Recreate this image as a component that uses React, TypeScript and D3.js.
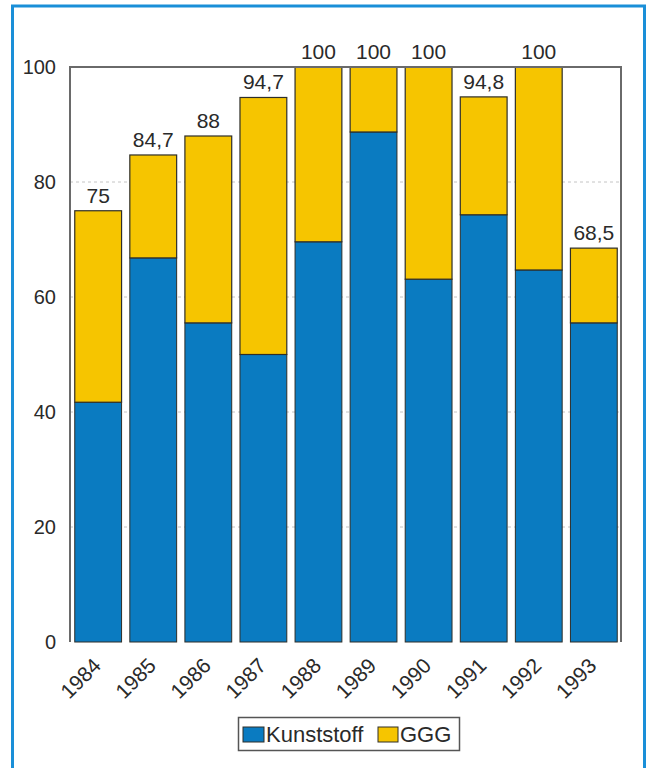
import React from "react";
import * as d3 from "d3";

const years = ["1984", "1985", "1986", "1987", "1988", "1989", "1990", "1991", "1992", "1993"];
const kunststoff = [41.7, 66.8, 55.5, 50.0, 69.6, 88.7, 63.1, 74.3, 64.7, 55.5];
const ggg = [33.3, 17.9, 32.5, 44.7, 30.4, 11.3, 36.9, 20.5, 35.3, 13.0];
const totalLabels = ["75", "84,7", "88", "94,7", "100", "100", "100", "94,8", "100", "68,5"];
const yTicks = [0, 20, 40, 60, 80, 100];
const seriesNames = ["Kunststoff", "GGG"];

const W = 648;
const H = 768;
const left = 70;
const right = 621;
const top = 67;
const bottom = 642;

const BLUE = "#0a7bc1";
const YELLOW = "#f6c500";
const FRAME = "#1a8fd8";
const OUTLINE = "#2e2e28";
const TEXT = "#2a2a2a";
const FONT = "'Liberation Sans', Arial, Helvetica, sans-serif";

export default function App() {
  const x = d3.scaleBand<string>().domain(years).range([left + 2, right - 1]).paddingInner(0.15).paddingOuter(0.05);
  const y = d3.scaleLinear().domain([0, 100]).range([bottom, top]);

  React.useEffect(() => {
    document.body.style.margin = "0";
  }, []);

  return (
    <svg width={W} height={H} style={{ display: "block", position: "absolute", left: 0, top: 0, background: "#fff" }}>
      <rect x={0} y={0} width={W} height={H} fill="#fff" />
      {/* outer frame */}
      <rect x={12.5} y={6} width={632} height={770} fill="none" stroke={FRAME} strokeWidth={3} />

      {/* gridlines */}
      {yTicks.filter((t) => t > 0 && t < 100).map((t) => (
        <line key={"g" + t} x1={left} x2={right} y1={y(t)} y2={y(t)} stroke="#c4c4c4" strokeWidth={1} strokeDasharray="3 3" />
      ))}

      {/* bars */}
      {years.map((yr, i) => {
        const bx = x(yr)!;
        const bw = x.bandwidth();
        const k = kunststoff[i];
        const g = ggg[i];
        const tot = k + g;
        return (
          <g key={yr}>
            <rect x={bx} y={y(k)} width={bw} height={y(0) - y(k)} fill={BLUE} stroke={OUTLINE} strokeWidth={1} />
            <rect x={bx} y={y(tot)} width={bw} height={y(k) - y(tot)} fill={YELLOW} stroke={OUTLINE} strokeWidth={1.2} />
            <text x={bx + bw / 2} y={y(tot) - 8} textAnchor="middle" fontFamily={FONT} fontSize={21} fill={TEXT}>
              {totalLabels[i]}
            </text>
            <text
              transform={`translate(${bx + bw / 2 + 4},${bottom + 25}) rotate(-45)`}
              textAnchor="end"
              fontFamily={FONT}
              fontSize={21}
              fill={TEXT}
            >
              {yr}
            </text>
          </g>
        );
      })}

      {/* plot frame: left, top, right */}
      <path d={`M${left},${bottom} V${top} H${right} V${bottom}`} fill="none" stroke="#6a6a6a" strokeWidth={2} />

      {/* y tick labels */}
      {yTicks.map((t) => (
        <text key={"t" + t} x={56} y={y(t)} dy="0.35em" textAnchor="end" fontFamily={FONT} fontSize={20} fill={TEXT}>
          {t}
        </text>
      ))}

      {/* legend */}
      <g>
        <rect x={238.5} y={717.5} width={221} height={33} fill="#fff" stroke="#555" strokeWidth={1.5} />
        <rect x={243} y={727} width={21} height={15} fill={BLUE} stroke={OUTLINE} strokeWidth={1} />
        <text x={266} y={742} fontFamily={FONT} fontSize={22} fill={TEXT}>{seriesNames[0]}</text>
        <rect x={378} y={727} width={20} height={15} fill={YELLOW} stroke={OUTLINE} strokeWidth={1} />
        <text x={400} y={742} fontFamily={FONT} fontSize={22} fill={TEXT}>{seriesNames[1]}</text>
      </g>
    </svg>
  );
}
